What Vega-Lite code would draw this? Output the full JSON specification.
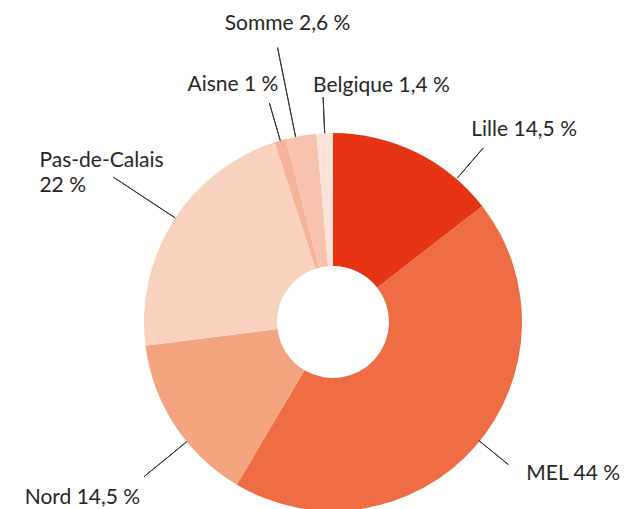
{
  "$schema": "https://vega.github.io/schema/vega-lite/v6.json",
  "width": 400,
  "height": 374,
  "autosize": {"type": "none"},
  "padding": {"left": 133, "top": 135, "right": 110, "bottom": 0},
  "background": "white",
  "config": {"view": {"stroke": null}, "text": {"font": "Lato", "fontSize": 21, "fontWeight": 400, "fill": "#262626"}},
  "data": {"values": [
    {"region": "Lille", "pct": 14.5, "label": "Lille 14,5 %"},
    {"region": "MEL", "pct": 44, "label": "MEL 44 %"},
    {"region": "Nord", "pct": 14.5, "label": "Nord 14,5 %"},
    {"region": "Pas-de-Calais", "pct": 22, "label": "Pas-de-Calais\n22 %"},
    {"region": "Aisne", "pct": 1, "label": "Aisne 1 %"},
    {"region": "Somme", "pct": 2.6, "label": "Somme 2,6 %"},
    {"region": "Belgique", "pct": 1.4, "label": "Belgique 1,4 %"}
  ]},
  "transform": [
    {"window": [{"op": "sum", "field": "pct", "as": "end"}], "frame": [null, 0]},
    {"calculate": "datum.end - datum.pct", "as": "start"},
    {"calculate": "datum.end - datum.pct / 2", "as": "mid"}
  ],
  "layer": [
    {
      "mark": {"type": "arc", "outerRadius": 189, "innerRadius": 56},
      "encoding": {
        "theta": {"field": "start", "type": "quantitative", "scale": {"domain": [0, 100], "range": [0, 6.283185307179586]}},
        "theta2": {"field": "end"},
        "color": {"field": "region", "type": "nominal", "legend": null,
          "scale": {"domain": ["Lille", "MEL", "Nord", "Pas-de-Calais", "Aisne", "Somme", "Belgique"],
                    "range": ["#E63414", "#EE6D44", "#F4A47F", "#F9D3C0", "#F5B397", "#F8C3AC", "#FCE2D8"]}}
      }
    },
    {
      "transform": [{"filter": "datum.region === 'Lille'"}],
      "mark": {"type": "arc", "innerRadius": 190, "outerRadius": 230, "thetaOffset": 0.2566, "theta2Offset": 0.2566, "stroke": "#333333", "strokeWidth": 1, "fill": null},
      "encoding": {"theta": {"field": "mid", "type": "quantitative"}, "theta2": {"field": "mid"}}
    },
    {
      "transform": [{"filter": "datum.region === 'MEL'"}],
      "mark": {"type": "arc", "innerRadius": 188, "outerRadius": 226, "thetaOffset": -0.040, "theta2Offset": -0.040, "stroke": "#333333", "strokeWidth": 1, "fill": null},
      "encoding": {"theta": {"field": "mid", "type": "quantitative"}, "theta2": {"field": "mid"}}
    },
    {
      "transform": [{"filter": "datum.region === 'Nord'"}],
      "mark": {"type": "arc", "innerRadius": 189, "outerRadius": 244, "thetaOffset": -0.1047, "theta2Offset": -0.1047, "stroke": "#333333", "strokeWidth": 1, "fill": null},
      "encoding": {"theta": {"field": "mid", "type": "quantitative"}, "theta2": {"field": "mid"}}
    },
    {
      "transform": [{"filter": "datum.region === 'Pas-de-Calais'"}],
      "mark": {"type": "arc", "innerRadius": 189, "outerRadius": 263, "thetaOffset": 0.0175, "theta2Offset": 0.0175, "stroke": "#333333", "strokeWidth": 1, "fill": null},
      "encoding": {"theta": {"field": "mid", "type": "quantitative"}, "theta2": {"field": "mid"}}
    },
    {
      "transform": [{"filter": "datum.region === 'Aisne'"}],
      "mark": {"type": "arc", "innerRadius": 189, "outerRadius": 228, "stroke": "#333333", "strokeWidth": 1, "fill": null},
      "encoding": {"theta": {"field": "mid", "type": "quantitative"}, "theta2": {"field": "mid"}}
    },
    {
      "transform": [{"filter": "datum.region === 'Somme'"}],
      "mark": {"type": "arc", "innerRadius": 189, "outerRadius": 280, "thetaOffset": -0.0297, "theta2Offset": -0.0297, "stroke": "#333333", "strokeWidth": 1, "fill": null},
      "encoding": {"theta": {"field": "mid", "type": "quantitative"}, "theta2": {"field": "mid"}}
    },
    {
      "transform": [{"filter": "datum.region === 'Belgique'"}],
      "mark": {"type": "arc", "innerRadius": 189, "outerRadius": 225, "stroke": "#333333", "strokeWidth": 1, "fill": null},
      "encoding": {"theta": {"field": "mid", "type": "quantitative"}, "theta2": {"field": "mid"}}
    },
    {
      "transform": [{"filter": "datum.region === 'Lille'"}],
      "mark": {"type": "text", "thetaOffset": 0.2566, "align": "left", "baseline": "alphabetic", "dx": -12, "dy": -12},
      "encoding": {"theta": {"field": "mid", "type": "quantitative"}, "radius": {"value": 230}, "text": {"field": "label"}}
    },
    {
      "transform": [{"filter": "datum.region === 'MEL'"}],
      "mark": {"type": "text", "thetaOffset": -0.040, "align": "left", "baseline": "alphabetic", "dx": 18, "dy": 15},
      "encoding": {"theta": {"field": "mid", "type": "quantitative"}, "radius": {"value": 226}, "text": {"field": "label"}}
    },
    {
      "transform": [{"filter": "datum.region === 'Nord'"}],
      "mark": {"type": "text", "thetaOffset": -0.1047, "align": "right", "baseline": "alphabetic", "dx": -4, "dy": 27},
      "encoding": {"theta": {"field": "mid", "type": "quantitative"}, "radius": {"value": 244}, "text": {"field": "label"}}
    },
    {
      "transform": [{"filter": "datum.region === 'Pas-de-Calais'"}],
      "mark": {"type": "text", "thetaOffset": 0.0175, "align": "left", "baseline": "alphabetic", "dx": -74, "dy": -10, "lineBreak": "\n", "lineHeight": 25},
      "encoding": {"theta": {"field": "mid", "type": "quantitative"}, "radius": {"value": 263}, "text": {"field": "label"}}
    },
    {
      "transform": [{"filter": "datum.region === 'Aisne'"}],
      "mark": {"type": "text", "align": "right", "baseline": "alphabetic", "dx": 9, "dy": -12},
      "encoding": {"theta": {"field": "mid", "type": "quantitative"}, "radius": {"value": 228}, "text": {"field": "label"}}
    },
    {
      "transform": [{"filter": "datum.region === 'Somme'"}],
      "mark": {"type": "text", "thetaOffset": -0.0297, "align": "center", "baseline": "alphabetic", "dx": 10, "dy": -18},
      "encoding": {"theta": {"field": "mid", "type": "quantitative"}, "radius": {"value": 280}, "text": {"field": "label"}}
    },
    {
      "transform": [{"filter": "datum.region === 'Belgique'"}],
      "mark": {"type": "text", "align": "left", "baseline": "alphabetic", "dx": -10, "dy": -5},
      "encoding": {"theta": {"field": "mid", "type": "quantitative"}, "radius": {"value": 225}, "text": {"field": "label"}}
    }
  ]
}
